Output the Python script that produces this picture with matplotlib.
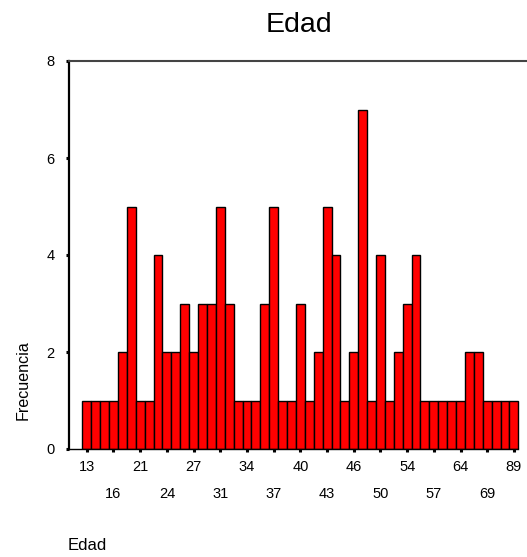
import matplotlib
matplotlib.use("Agg")
import matplotlib.pyplot as plt

# edades (categorias) y frecuencias
edades = [13, 14, 15, 16, 18, 19, 21, 22, 23, 24, 25, 26, 27, 28, 30, 31, 32,
          33, 34, 35, 36, 37, 38, 39, 40, 41, 42, 43, 44, 45, 46, 47, 48, 50,
          51, 52, 54, 55, 56, 57, 59, 61, 64, 66, 67, 69, 72, 78, 89]
frecuencias = [1, 1, 1, 1, 2, 5, 1, 1, 4, 2, 2, 3, 2, 3, 3, 5, 3,
               1, 1, 1, 3, 5, 1, 1, 3, 1, 2, 5, 4, 1, 2, 7, 1, 4,
               1, 2, 3, 4, 1, 1, 1, 1, 1, 2, 2, 1, 1, 1, 1]
y_ticks = [0, 2, 4, 6, 8]

plt.rcParams['font.family'] = ['Liberation Sans', 'DejaVu Sans']

fig = plt.figure(figsize=(5.27, 5.57), dpi=100)
ax = fig.add_axes([69 / 527, (557 - 449) / 557, 1 - 69 / 527, (449 - 61) / 557])

pos = list(range(len(edades)))
ax.bar(pos, frecuencias, width=1.0, color='#ff0000', edgecolor='black', linewidth=1.0)

ax.set_ylim(0, 8)
ax.set_xlim(-2.0, 49.47)
ax.set_yticks(y_ticks)
ax.set_yticklabels([str(v) for v in y_ticks], fontsize=10.5)

# etiquetas alternadas en dos filas
fila1 = pos[0::6]
fila2 = pos[3::6]
ax.set_xticks(fila1)
ax.set_xticklabels([str(edades[i]) for i in fila1], fontsize=10.5)
ax.set_xticks(fila2, minor=True)
ax.set_xticklabels([str(edades[i]) for i in fila2], fontsize=10.5, minor=True)

ax.tick_params(axis='y', direction='out', length=2.2, width=2.2, pad=8, colors='black')
ax.tick_params(axis='x', which='both', direction='out', length=2.2, width=2.2, colors='black')
ax.tick_params(axis='x', which='major', pad=6)
ax.tick_params(axis='x', which='minor', pad=25)

ax.spines['right'].set_visible(False)
ax.spines['left'].set_linewidth(1.6)
ax.spines['top'].set_linewidth(1.5)
ax.spines['top'].set_color('#444444')
ax.spines['bottom'].set_linewidth(1.0)
ax.spines['bottom'].set_bounds(-2.0, 48.5)

fig.text(299 / 527, 1 - 25 / 557, 'Edad', fontsize=20.5, ha='center', va='center')
fig.text(23 / 527, 1 - 380.5 / 557, 'Frecuencia', fontsize=11.6, rotation=90,
         ha='center', va='center')
fig.text(68 / 527, 1 - 546 / 557, 'Edad', fontsize=12, ha='left', va='center')

fig.savefig('out.png', dpi=100)
